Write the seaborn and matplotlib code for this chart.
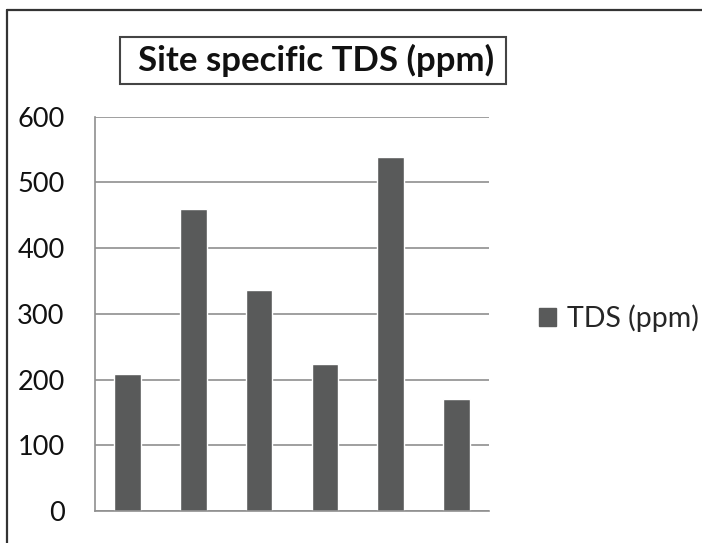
import matplotlib
matplotlib.use("Agg")
import matplotlib.pyplot as plt
from matplotlib.patches import Rectangle
from matplotlib.lines import Line2D
import seaborn as sns
import pandas as pd

sites = ["Site 1", "Site 2", "Site 3", "Site 4", "Site 5", "Site 6"]
tds_ppm = [209, 459, 337, 224, 538, 170]
y_ticks = [0, 100, 200, 300, 400, 500, 600]
series_name = "TDS (ppm)"
title = "Site specific TDS (ppm)"

sns.set_theme(style="white")
plt.rcParams["font.family"] = ["Lato", "DejaVu Sans"]

bar_color = "#595a5a"
grid_color = "#8f8f8f"

df = pd.DataFrame({"site": sites, "tds": tds_ppm})

fig = plt.figure(figsize=(7.02, 5.43), dpi=100)
ax = fig.add_axes([94.7 / 702, 32 / 543, (489.3 - 94.7) / 702, (511 - 116.7) / 543])

sns.barplot(data=df, x="site", y="tds", color=bar_color, saturation=1,
            width=0.4, ax=ax, label=series_name)

ax.set_ylim(0, 600)
ax.set_xlim(-0.5, len(sites) - 0.5)
ax.set_yticks(y_ticks)
ax.set_yticklabels([str(v) for v in y_ticks], fontsize=19.5, color="#111111")
ax.set_xticks([i - 0.5 for i in range(len(sites) + 1)])
ax.set_xticklabels([])
ax.set_xlabel("")
ax.set_ylabel("")

ax.grid(axis="y", color=grid_color, linewidth=1.2)
ax.set_axisbelow(True)
for side in ["top", "right"]:
    ax.spines[side].set_visible(False)
for side in ["left", "bottom"]:
    ax.spines[side].set_color(grid_color)
    ax.spines[side].set_linewidth(1.2)
ax.tick_params(axis="both", which="both", direction="out", length=7.2,
               width=1.2, color=grid_color)
ax.tick_params(axis="y", pad=14.5)

# Legend to the right of the plot area
if ax.legend_:
    ax.legend_.remove()
fig.legend(handles=[Rectangle((0, 0), 1, 1, color=bar_color)], labels=[series_name],
           loc="center left", bbox_to_anchor=(539 / 702, 1 - 318 / 543),
           frameon=False, fontsize=20.5, handlelength=0.6, handleheight=0.6,
           handletextpad=0.4, borderaxespad=0, borderpad=0)

# Boxed title
fig.patches.append(Rectangle((120 / 702, 1 - 84 / 543), (506 - 120) / 702, (84 - 37) / 543,
                             transform=fig.transFigure, fill=False,
                             edgecolor="#444444", linewidth=1.5))
fig.text(316 / 702, 1 - 60 / 543, title, ha="center", va="center",
         fontsize=25, fontweight="bold", color="#111111")

# Chart frame (left and top edges)
fig.add_artist(Line2D([6.5 / 702, 6.5 / 702], [0, 1 - 9.5 / 543], transform=fig.transFigure,
                      color="#333333", linewidth=1.6))
fig.add_artist(Line2D([6.5 / 702, 1], [1 - 9.5 / 543, 1 - 9.5 / 543], transform=fig.transFigure,
                      color="#333333", linewidth=1.6))

fig.savefig("out.png", dpi=100, facecolor="white")
